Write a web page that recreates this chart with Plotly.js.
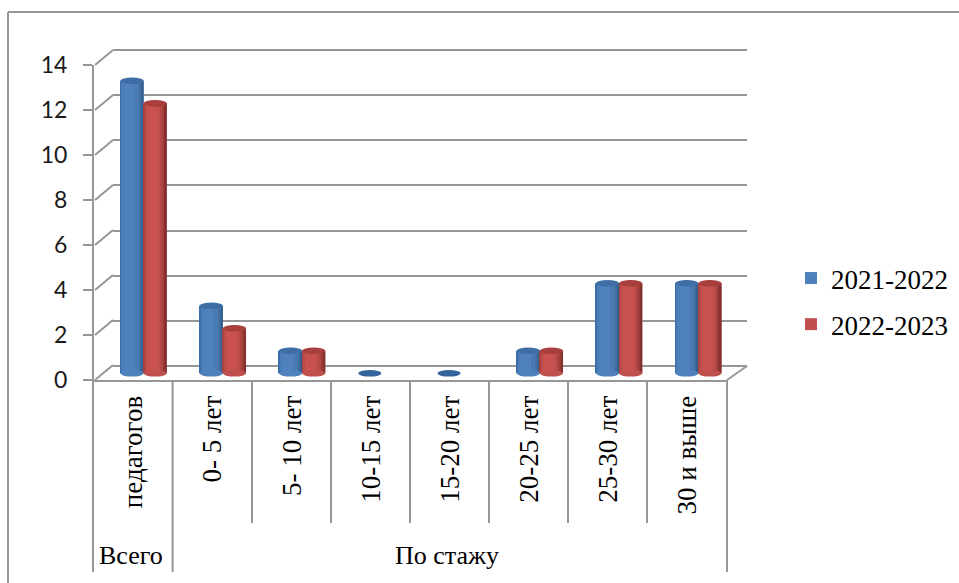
<!DOCTYPE html>
<html>
<head>
<meta charset="utf-8">
<script src="https://cdn.plot.ly/plotly-3.0.1.min.js"></script>
<style>html,body{margin:0;padding:0;background:#fff}#c{width:959px;height:583px}</style>
</head>
<body>
<div id="c"></div>
<script>
var categories = ["педагогов","0- 5 лет","5- 10 лет","10-15 лет","15-20 лет","20-25 лет","25-30 лет","30 и выше"];
var groupLabels = ["Всего","По стажу"];
var seriesNames = ["2021-2022","2022-2023"];
var values2021 = [13,3,1,0,0,1,4,4];
var values2022 = [12,2,1,0,0,1,4,4];
var yTicks = [0,2,4,6,8,10,12,14];

var W=959,H=583;
function fx(p){return p/W;}
function fy(p){return 1-p/H;}
var GRAY="#969696", SERIF="'Liberation Serif','Times New Roman',serif";
var catIdx=categories.map(function(_,i){return i;});
var barW=0.292;

var shades=[
 {base:"#4f81bd",cap:"#3f6ea6",zero:"#35659c",shift:-barW,bands:[[0,.06,"#3d6da6"],[.06,.14,"#4a7cb8"],[.62,.8,"#4a7ab4"],[.8,.9,"#41709f"],[.9,1,"#335f90"]]},
 {base:"#c0504d",cap:"#a83f3c",zero:"#c0504d",shift:0,bands:[[0,.06,"#a84340"],[.06,.14,"#bb4b48"],[.14,.6,"#c9524f"],[.72,.84,"#b04643"],[.84,.92,"#9b3c39"],[.92,1,"#843230"]]}
];
var seriesVals=[values2021,values2022];

var traces=[
 {type:"scatter",mode:"none",x:[0],y:[0],xaxis:"x",yaxis:"y",showlegend:false,hoverinfo:"skip"},
 {type:"scatter",mode:"none",x:[0],y:[0],xaxis:"x2",yaxis:"y2",showlegend:false,hoverinfo:"skip"}
];
shades.forEach(function(s,k){
  traces.push({type:"bar",name:seriesNames[k],legendgroup:seriesNames[k],x:catIdx,y:seriesVals[k],
    xaxis:"x3",yaxis:"y3",width:barW,offset:s.shift,marker:{color:s.base,line:{width:0}},hoverinfo:"y"});
  s.bands.forEach(function(b){
    traces.push({type:"bar",showlegend:false,legendgroup:seriesNames[k],x:catIdx,y:seriesVals[k],
      xaxis:"x3",yaxis:"y3",width:barW*(b[1]-b[0]),offset:s.shift+barW*b[0],marker:{color:b[2],line:{width:0}},hoverinfo:"skip"});
  });
});

var shapes=[];
function seg(x0,y0,x1,y1){shapes.push({type:"line",xref:"paper",yref:"paper",x0:fx(x0),y0:fy(y0),x1:fx(x1),y1:fy(y1),line:{color:GRAY,width:2},layer:"below"});}
// outer frame (open to the right and bottom)
seg(8,12,8,583); seg(8,12,959,12);
// wall / floor diagonals
yTicks.forEach(function(v){var py=380-v*22.5; seg(95,py,113,py-15);});
seg(727,380,747,366);
// category dividers
var dividers=[[93,572],[172.6,572],[252,523],[331,523],[410,523],[489,523],[568,523],[647,523],[727,572]];
dividers.forEach(function(d){seg(d[0],380,d[0],d[1]);});
// cylinder caps
var capH=0.147;
shades.forEach(function(s,k){
  seriesVals[k].forEach(function(v,i){
    if(v===0 && k===1) return;
    var x0=i+s.shift, x1=x0+barW;
    if(v>0) shapes.push({type:"circle",xref:"x3",yref:"y3",x0:x0,x1:x1,y0:-capH,y1:capH,fillcolor:s.base,line:{width:0}});
    shapes.push({type:"circle",xref:"x3",yref:"y3",x0:x0,x1:x1,y0:v-capH,y1:v+capH,fillcolor:v===0?s.zero:s.cap,line:{width:0}});
  });
});

var layout={
  width:W,height:H,margin:{l:0,r:0,t:0,b:0},paper_bgcolor:"#fff",plot_bgcolor:"rgba(0,0,0,0)",
  barmode:"overlay",showlegend:true,
  legend:{x:fx(791),xanchor:"left",y:fy(254),yanchor:"top",tracegroupgap:8,traceorder:"grouped",
    font:{family:SERIF,size:27,color:"#000"},bgcolor:"rgba(0,0,0,0)",borderwidth:0},
  xaxis:{domain:[fx(94),fx(727)],range:[-0.5,7.5],anchor:"y",tickmode:"array",tickvals:catIdx,ticktext:categories,
    tickangle:-90,ticks:"",showgrid:false,zeroline:false,showline:true,linecolor:GRAY,linewidth:2,ticklabelstandoff:3,
    tickfont:{family:SERIF,size:27,color:"#000"},fixedrange:true},
  yaxis:{domain:[fy(380),fy(65)],range:[0,14],anchor:"x",tickmode:"array",tickvals:yTicks,ticks:"outside",ticklen:9,tickwidth:2,tickcolor:GRAY,
    showgrid:false,zeroline:false,showline:true,linecolor:GRAY,linewidth:2,ticklabelstandoff:11,
    tickfont:{family:"Lato,'Open Sans',sans-serif",size:23,color:"#1a1a1a"},fixedrange:true},
  xaxis2:{domain:[fx(113),fx(747)],range:[0,1],anchor:"y2",visible:false,fixedrange:true},
  yaxis2:{domain:[fy(388.5),fy(27.5)],range:[-1,15],anchor:"x2",tickmode:"array",tickvals:yTicks,showticklabels:false,ticks:"",
    showgrid:true,gridcolor:GRAY,gridwidth:2,zeroline:false,showline:false,fixedrange:true},
  xaxis3:{domain:[fx(104),fx(738)],range:[-0.5,7.5],anchor:"y3",visible:false,fixedrange:true},
  yaxis3:{domain:[fy(395.8),fy(58.3)],range:[-1,14],anchor:"x3",visible:false,fixedrange:true},
  shapes:shapes,
  annotations:[
    {text:groupLabels[0],xref:"paper",yref:"paper",x:fx(131),y:fy(555),showarrow:false,font:{family:SERIF,size:26,color:"#000"},xanchor:"center",yanchor:"middle"},
    {text:groupLabels[1],xref:"paper",yref:"paper",x:fx(447),y:fy(555),showarrow:false,font:{family:SERIF,size:26,color:"#000"},xanchor:"center",yanchor:"middle"}
  ]
};
Plotly.newPlot("c",traces,layout,{displayModeBar:false,responsive:false});
</script>
</body>
</html>
